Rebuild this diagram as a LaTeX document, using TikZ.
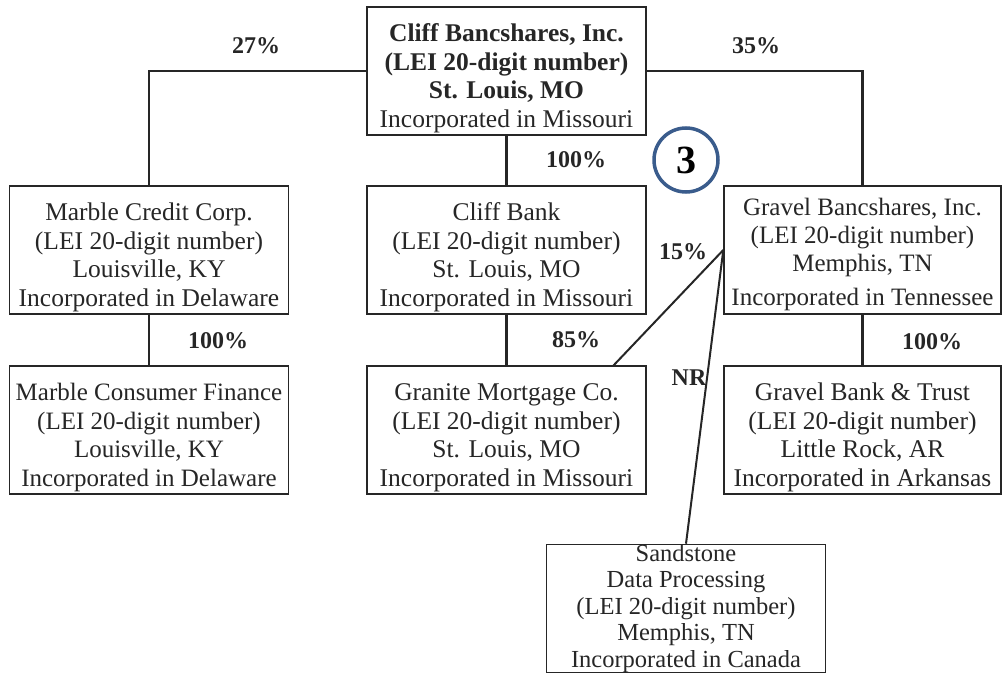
\documentclass[tikz,border=0pt]{standalone}
\usepackage{fontspec}
\setmainfont{Liberation Serif}
\definecolor{circblue}{RGB}{58,92,140}
\newcommand{\tpad}{\rule{0pt}{32pt}}
\newcommand{\tpadg}{\rule{0pt}{27pt}}
\tikzset{
  ent/.style={draw=black!85, line width=1.4pt, minimum width=279pt, minimum height=128pt,
    inner sep=0pt, align=center, font=\fontsize{25.5}{28.5}\selectfont, text=black!85},
  conn/.style={draw=black!85, line width=2.8pt},
  thin/.style={draw=black!85, line width=2pt},
  pct/.style={font=\fontsize{24}{26}\selectfont\bfseries, text=black!85, inner sep=0pt}
}
\begin{document}
\begin{tikzpicture}[x=1pt,y=-1pt]
\useasboundingbox (0,0) rectangle (1002,677);
\node[ent] (top) at (506.5,71) {\tpad\textbf{Cliff Bancshares, Inc.}\\\textbf{(LEI 20-digit number)}\\\textbf{St. Louis, MO}\\Incorporated in Missouri};
\node[ent] (marble) at (149,250) {\tpad Marble Credit Corp.\\(LEI 20-digit number)\\Louisville, KY\\Incorporated in Delaware};
\node[ent] (cliff) at (506.5,250) {\tpad Cliff Bank\\(LEI 20-digit number)\\St. Louis, MO\\Incorporated in Missouri};
\node[ent, minimum width=277pt, font=\fontsize{25}{28}\selectfont] (gravel) at (862.5,250) {\tpadg Gravel Bancshares, Inc.\\(LEI 20-digit number)\\Memphis, TN\\[6pt]Incorporated in Tennessee};
\node[ent, font=\fontsize{25}{28.5}\selectfont] (consumer) at (149,430) {\tpad Marble Consumer Finance\\(LEI 20-digit number)\\Louisville, KY\\Incorporated in Delaware};
\node[ent] (granite) at (506.5,430) {\tpad Granite Mortgage Co.\\(LEI 20-digit number)\\St. Louis, MO\\Incorporated in Missouri};
\node[ent, minimum width=277pt] (gbank) at (862.5,430) {\tpad Gravel Bank \& Trust\\(LEI 20-digit number)\\Little Rock, AR\\Incorporated in Arkansas};
\node[ent, font=\fontsize{24.5}{26.5}\selectfont] (sand) at (686,608.5) {Sandstone\\Data Processing\\(LEI 20-digit number)\\Memphis, TN\\Incorporated in Canada};
\coordinate (grtop) at (613,366);
\draw[conn] (top.west) -| (marble.north);
\draw[conn] (top.east) -| (gravel.north);
\draw[conn] (top.south) -- (cliff.north);
\draw[conn] (marble.south) -- (consumer.north);
\draw[conn] (cliff.south) -- (granite.north);
\draw[conn] (gravel.south) -- (gbank.north);
\draw[thin] (gravel.west) -- (grtop);
\draw[thin] (gravel.west) -- (sand.north);
\node[pct] (p27) at (256,46) {27\%};
\node[pct] (p35) at (756,46) {35\%};
\node[pct] (p100a) at (576,160) {100\%};
\node[pct] (p15) at (683,252) {15\%};
\node[pct] (p85) at (576,340) {85\%};
\node[pct] (pnr) at (689,378) {NR};
\node[pct] (p100b) at (218,341) {100\%};
\node[pct] (p100c) at (932,342) {100\%};
\node[draw=circblue, line width=3.5pt, circle, minimum size=64pt, inner sep=0pt,
  font=\fontsize{40}{40}\selectfont\bfseries, text=black] (three) at (686,160) {3};
\end{tikzpicture}
\end{document}
